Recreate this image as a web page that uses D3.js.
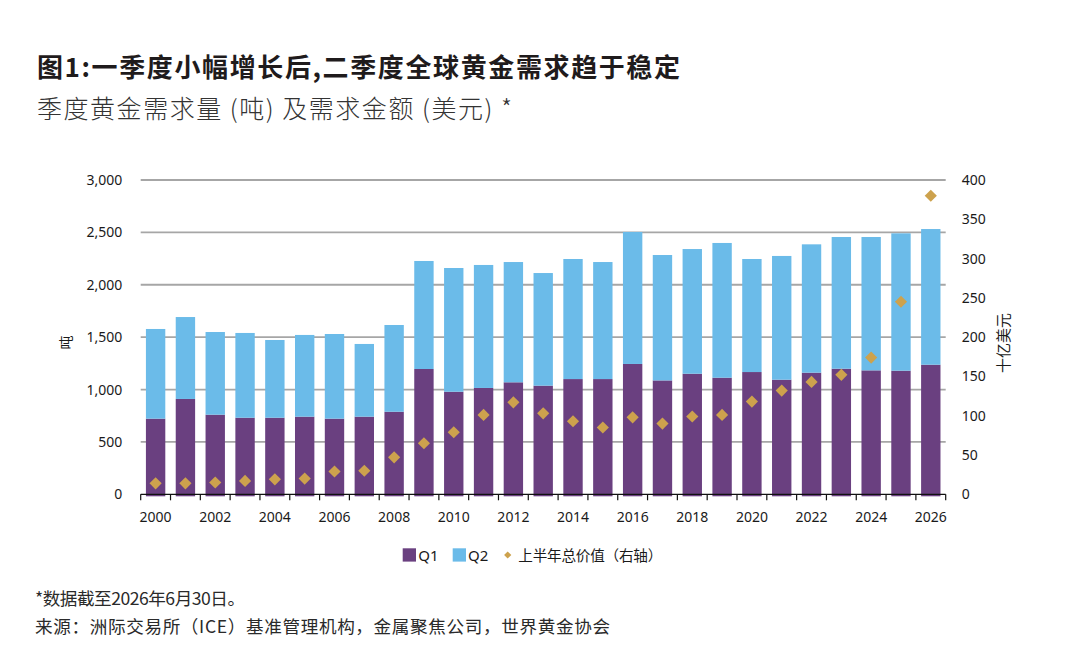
<!DOCTYPE html>
<html>
<head>
<meta charset="utf-8">
<script src="https://cdn.jsdelivr.net/npm/d3@7"></script>
<style>
  html, body { margin: 0; padding: 0; background: #fff; }
  svg { display: block; }
</style>
</head>
<body>
<svg id="chart" width="1084" height="660"></svg>
<script>
// ---------- data ----------
const years = d3.range(2000, 2027).map(String);
const q1 = [722, 910, 760, 731, 731, 741, 722, 741, 788, 1196, 979, 1015, 1069, 1037, 1100, 1100, 1244, 1087, 1151, 1113, 1167, 1094, 1161, 1199, 1183, 1180, 1237];
const q2 = [856, 782, 789, 809, 742, 780, 808, 694, 828, 1031, 1181, 1174, 1148, 1075, 1146, 1117, 1260, 1197, 1190, 1286, 1079, 1181, 1225, 1257, 1273, 1311, 1295];
const h1Value = [14, 14, 15, 17, 19, 20, 29, 30, 47, 65, 79, 101, 117, 103, 93, 85, 98, 90, 99, 101, 118, 132, 143, 152, 174, 245, 380];
const leftTicks = [0, 500, 1000, 1500, 2000, 2500, 3000];
const rightTicks = [0, 50, 100, 150, 200, 250, 300, 350, 400];
const xLabelYears = years.filter((d, i) => i % 2 === 0);

const titleText = "图1:一季度小幅增长后,二季度全球黄金需求趋于稳定";
const subtitleText = "季度黄金需求量 (吨) 及需求金额 (美元) *";
const leftAxisTitle = "吨";
const rightAxisTitle = "十亿美元";
const legendLabels = ["Q1", "Q2", "上半年总价值（右轴）"];
const footNote = "*数据截至2026年6月30日。";
const sourceNote = "来源：洲际交易所（ICE）基准管理机构，金属聚焦公司，世界黄金协会";

// ---------- styles ----------
const C_Q1 = "#6a4080";
const C_Q2 = "#6bbbe9";
const C_GOLD = "#cda24d";
const C_GRID = "#a6a6a6";
const LATIN = "'Noto Sans', 'Noto Sans CJK SC', sans-serif";
const CJK = "'Noto Sans CJK SC', 'Noto Sans', sans-serif";

const svg = d3.select("#chart");
svg.append("rect").attr("width", 1084).attr("height", 660).attr("fill", "#fff");

const x0 = 140.7, x1 = 945.7, yBottom = 494.3, yTop = 180;

const x = d3.scaleBand().domain(years).range([x0, x1]).paddingInner(0.35).paddingOuter(0.175);
const xEdge = d3.scaleLinear().domain([0, years.length]).range([x0, x1]);
const yL = d3.scaleLinear().domain([0, 3000]).range([yBottom, yTop]);
const yR = d3.scaleLinear().domain([0, 400]).range([yBottom, yTop]);

// ---------- title ----------
svg.append("text").attr("x", 37).attr("y", 77)
  .attr("font-family", CJK).attr("font-weight", 700).attr("font-size", 26)
  .attr("fill", "#1f1b1c").attr("textLength", 643).attr("lengthAdjust", "spacing")
  .text(titleText);
svg.append("text").attr("x", 37).attr("y", 118)
  .attr("font-family", CJK).attr("font-weight", 300).attr("font-size", 25)
  .attr("fill", "#333").attr("textLength", 475).attr("lengthAdjust", "spacing")
  .text(subtitleText);

// ---------- gridlines ----------
svg.append("g").selectAll("line").data(leftTicks.filter(d => d > 0)).join("line")
  .attr("x1", x0).attr("x2", x1)
  .attr("y1", d => yL(d)).attr("y2", d => yL(d))
  .attr("stroke", C_GRID).attr("stroke-width", 1.8);

// ---------- bars ----------
const rows = years.map((y, i) => ({ year: y, Q1: q1[i], Q2: q2[i] }));
const stack = d3.stack().keys(["Q1", "Q2"])(rows);
const colors = { Q1: C_Q1, Q2: C_Q2 };
svg.append("g").selectAll("g").data(stack).join("g")
  .attr("fill", s => colors[s.key])
  .selectAll("rect").data(s => s).join("rect")
  .attr("x", d => x(d.data.year))
  .attr("width", x.bandwidth())
  .attr("y", d => yL(d[1]))
  .attr("height", d => yL(d[0]) - yL(d[1]) + (d[0] === 0 ? 2 : 0));

// ---------- x axis ----------
svg.append("line").attr("x1", x0).attr("x2", x1).attr("y1", yBottom).attr("y2", yBottom)
  .attr("stroke", "#111").attr("stroke-width", 1.2);
svg.append("g").selectAll("line").data(d3.range(years.length + 1)).join("line")
  .attr("x1", d => xEdge(d)).attr("x2", d => xEdge(d))
  .attr("y1", yBottom).attr("y2", yBottom + 6)
  .attr("stroke", "#111").attr("stroke-width", 1.2);

const xAxis = svg.append("g").attr("transform", `translate(0,${yBottom})`)
  .call(d3.axisBottom(x).tickValues(xLabelYears).tickSize(0).tickPadding(17.4));
xAxis.select(".domain").remove();
xAxis.selectAll("text").attr("font-family", LATIN).attr("font-size", 14).attr("fill", "#1a1a1a");

// ---------- left axis ----------
const lAxis = svg.append("g").attr("transform", `translate(${x0},0)`)
  .call(d3.axisLeft(yL).tickValues(leftTicks).tickFormat(d3.format(",")).tickSize(0).tickPadding(18.5));
lAxis.select(".domain").remove();
lAxis.selectAll("text").attr("font-family", LATIN).attr("font-size", 14).attr("fill", "#1a1a1a");

// ---------- right axis ----------
const rAxis = svg.append("g").attr("transform", `translate(${x1},0)`)
  .call(d3.axisRight(yR).tickValues(rightTicks).tickSize(0).tickPadding(16));
rAxis.select(".domain").remove();
rAxis.selectAll("text").attr("font-family", LATIN).attr("font-size", 14).attr("fill", "#1a1a1a");

// axis titles
svg.append("text").attr("transform", "translate(71,342.5) rotate(-90)")
  .attr("text-anchor", "middle").attr("font-family", CJK).attr("font-size", 14)
  .attr("fill", "#1a1a1a").text(leftAxisTitle);
svg.append("text").attr("transform", "translate(1009,343) rotate(-90)")
  .attr("text-anchor", "middle").attr("font-family", CJK).attr("font-size", 15)
  .attr("fill", "#1a1a1a").text(rightAxisTitle);

// ---------- diamonds ----------
const diamond = d3.symbol().type(d3.symbolSquare).size(74);
svg.append("g").selectAll("path").data(years).join("path")
  .attr("d", diamond)
  .attr("transform", (d, i) => `translate(${x(d) + x.bandwidth() / 2},${yR(h1Value[i])}) rotate(45)`)
  .attr("fill", C_GOLD);

// ---------- legend ----------
const lg = svg.append("g");
lg.append("rect").attr("x", 402.7).attr("y", 548.3).attr("width", 13.3).attr("height", 13.3).attr("fill", C_Q1);
lg.append("text").attr("x", 418.3).attr("y", 560.5).attr("font-family", LATIN).attr("font-size", 15)
  .attr("fill", "#1a1a1a").text(legendLabels[0]);
lg.append("rect").attr("x", 452.7).attr("y", 548.3).attr("width", 13.3).attr("height", 13.3).attr("fill", C_Q2);
lg.append("text").attr("x", 468).attr("y", 560.5).attr("font-family", LATIN).attr("font-size", 15)
  .attr("fill", "#1a1a1a").text(legendLabels[1]);
lg.append("path").attr("d", d3.symbol().type(d3.symbolSquare).size(26))
  .attr("transform", "translate(507.7,555) rotate(45)").attr("fill", C_GOLD);
lg.append("text").attr("x", 518.3).attr("y", 560.5).attr("font-family", CJK).attr("font-size", 14.6)
  .attr("fill", "#1a1a1a").attr("textLength", 144).attr("lengthAdjust", "spacing").text(legendLabels[2]);

// ---------- footer ----------
svg.append("text").attr("x", 35).attr("y", 605).attr("font-family", CJK).attr("font-size", 17.6)
  .attr("fill", "#2a2a2a").attr("textLength", 210).attr("lengthAdjust", "spacing").text(footNote);
svg.append("text").attr("x", 35).attr("y", 633).attr("font-family", CJK).attr("font-size", 17.6)
  .attr("fill", "#2a2a2a").attr("textLength", 575).attr("lengthAdjust", "spacing").text(sourceNote);
</script>
</body>
</html>
